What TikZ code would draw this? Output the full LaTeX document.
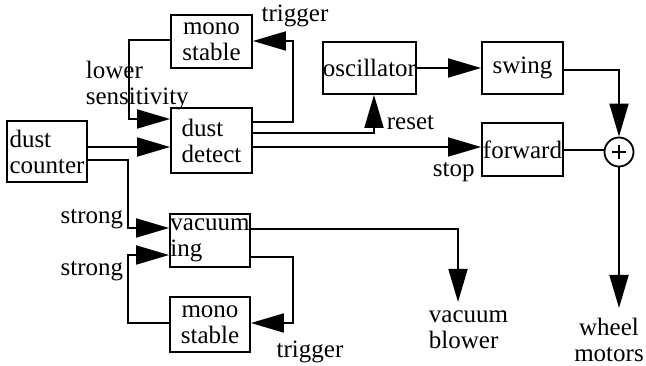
\documentclass[tikz,border=0pt]{standalone}
\usepackage{fontspec}
\setmainfont{Liberation Serif}
\usetikzlibrary{arrows.meta}

\begin{document}
\begin{tikzpicture}[x=1pt,y=-1pt,line width=1.8pt,
  every node/.style={font=\fontsize{25}{26}\selectfont,inner sep=0pt},
  blk/.style={draw,align=left},
  sumpt/.style={draw,circle,minimum size=29pt,
    path picture={\draw ([xshift=-7pt]path picture bounding box.center) -- ([xshift=7pt]path picture bounding box.center)
      ([yshift=-7pt]path picture bounding box.center) -- ([yshift=7pt]path picture bounding box.center);}},
  arr/.style={-{Triangle[length=33pt,width=19pt]}}]
\useasboundingbox (0,0) rectangle (646,366);
% blocks
\node[blk,align=center,minimum width=81pt,minimum height=53pt] (monoA) at (211.5,41.5) {mono\\stable};
\node[blk,minimum width=81pt,minimum height=65pt] (detect) at (211.5,140.5) {dust\\detect};
\node[blk,minimum width=80pt,minimum height=61pt] (counter) at (47,151.5) {dust\\counter};
\node[blk,minimum width=93pt,minimum height=52pt] (osc) at (369.5,68) {oscillator};
\node[blk,minimum width=81pt,minimum height=52pt] (swing) at (522.5,68) {swing};
\node[blk,minimum width=81pt,minimum height=53pt] (fwd) at (522.5,149.5) {forward};
\node[sumpt] (sum) at (619,152) {};
\node[blk,minimum width=80pt,minimum height=53pt] (vac) at (210,240.5) {vacuum\\ing};
\node[blk,align=center,minimum width=80pt,minimum height=55pt] (monoB) at (210,324.5) {mono\\stable};
% outputs
\coordinate (blower) at (458,302);
\coordinate (wheels) at (619,308);
\node[anchor=north west,align=left] (blowerlbl) at (428,310) {vacuum\\blower};
\node[align=center] (wheelslbl) at (609,340) {wheel\\motors};
% connectors
\draw[arr] (monoA.west |- 0,40) -- (129,40) -- (129,119) -- (detect.west |- 0,119);
\draw[arr] (detect.east |- 0,122) -- (293,122) -- (293,41) -- (monoA.east |- 0,41);
\draw[arr] (counter.east |- 0,147) -- (detect.west |- 0,147);
\draw[arr] (counter.east |- 0,160) -- (128,160) -- (128,228) -- (vac.west |- 0,228);
\draw[arr] (monoB.west |- 0,323) -- (128,323) -- (128,255) -- (vac.west |- 0,255);
\draw[arr] (vac.east |- 0,257) -- (293,257) -- (293,323) -- (monoB.east |- 0,323);
\draw[arr] (vac.east |- 0,229) -- (458,229) -- (blower);
\draw[arr] (detect.east |- 0,133) -- (374,133) -- (374,0 |- osc.south);
\draw[arr] (detect.east |- 0,147) -- (fwd.west |- 0,147);
\draw[arr] (osc.east) -- (swing.west);
\draw[arr] (swing.east |- 0,70) -- (619,70) -- (sum.north);
\draw (fwd.east |- 0,150) -- (sum.west |- 0,150);
\draw[arr] (sum.south) -- (wheels);
% labels
\node[anchor=north west,align=left] (lowerlbl) at (85,60) {lower\\sensitivity};
\node (trigA) at (295,16) {trigger};
\node (trigB) at (310,352) {trigger};
\node[anchor=east] (strongA) at (124,219) {strong};
\node[anchor=east] (strongB) at (124,271) {strong};
\node[anchor=base west] (resetlbl) at (386,130) {reset};
\node[anchor=base west] (stoplbl) at (432,177) {stop};
\end{tikzpicture}
\end{document}
